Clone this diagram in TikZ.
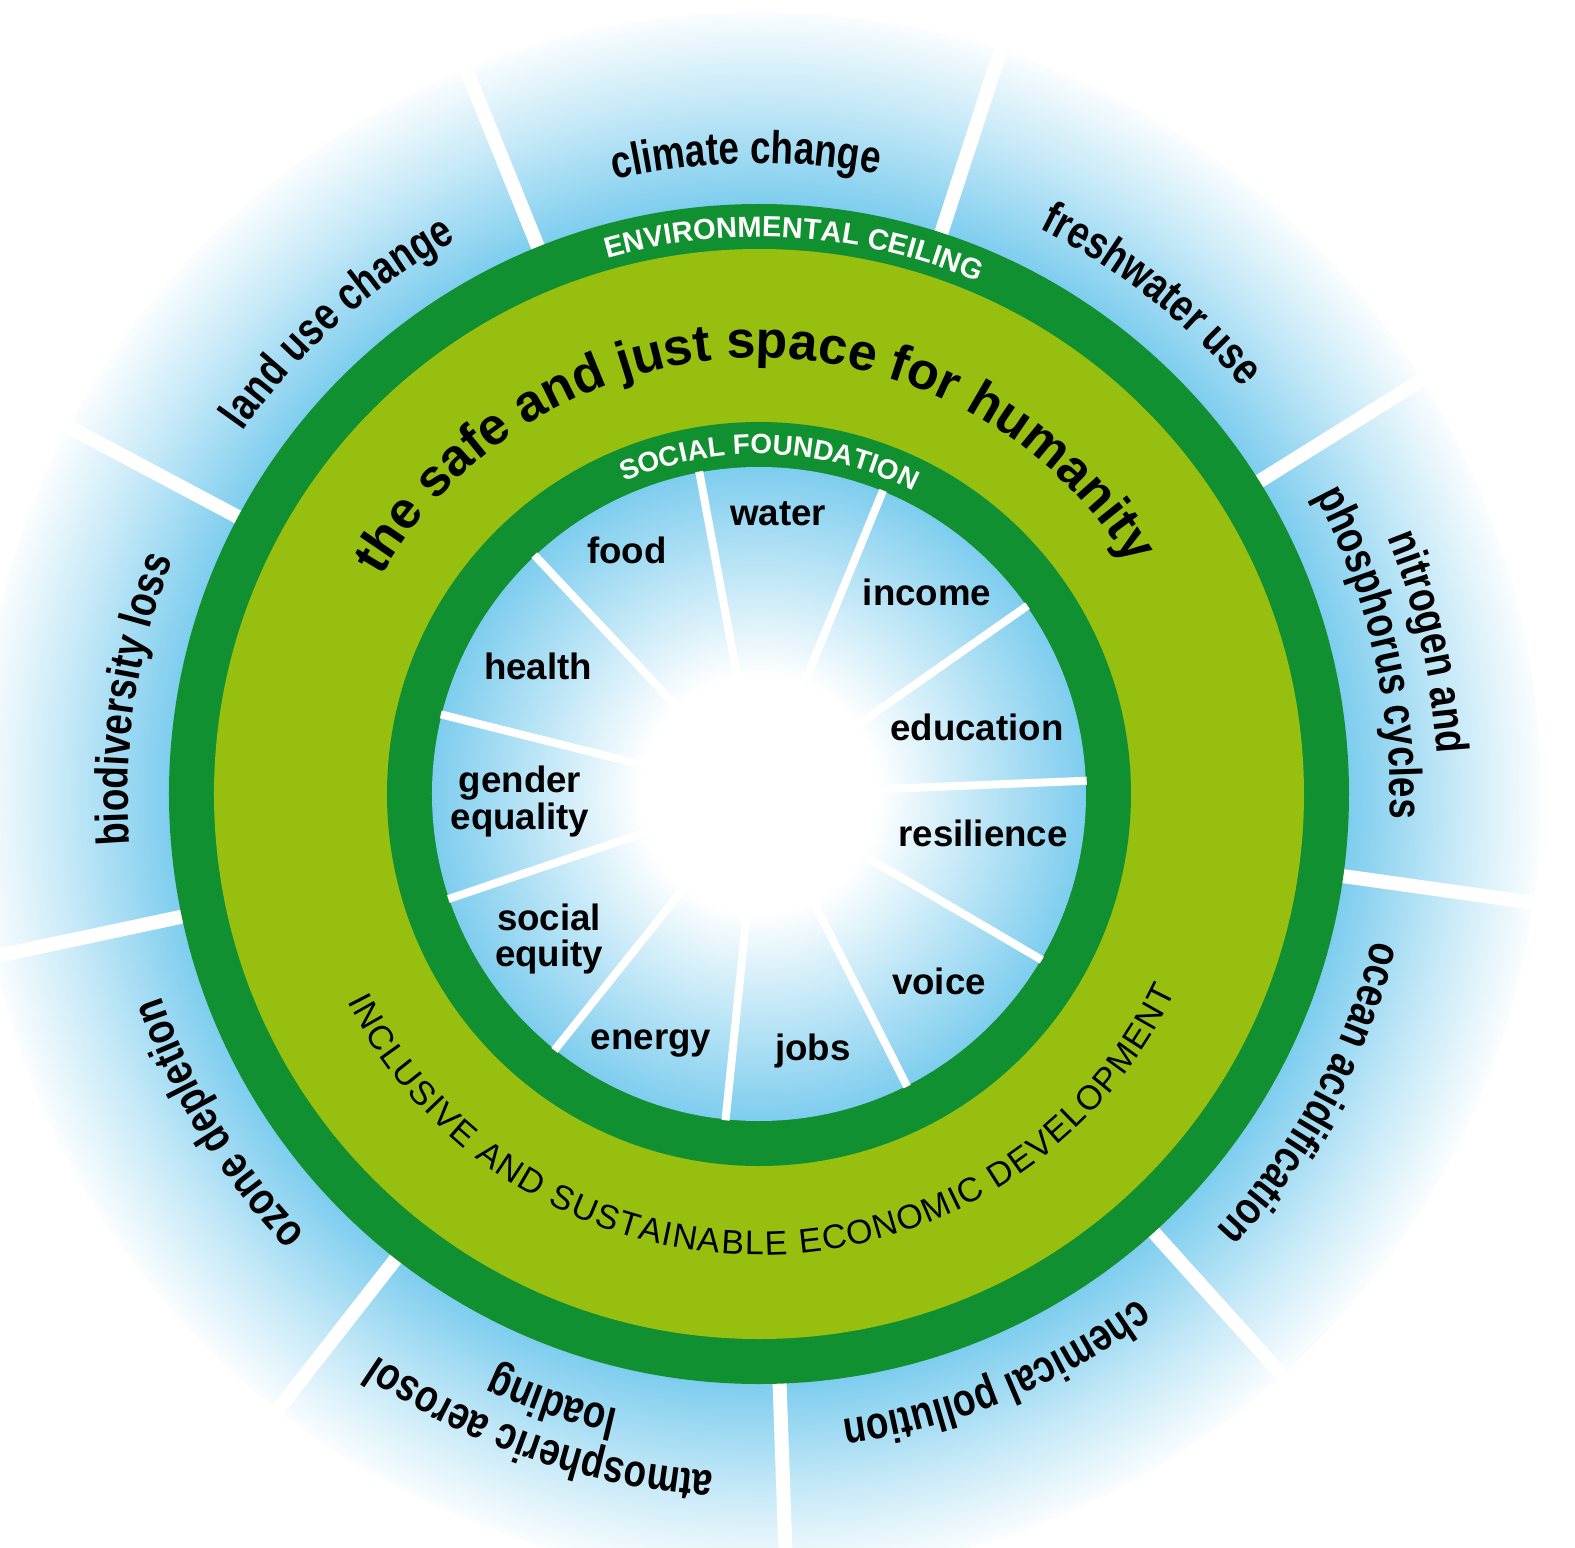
\documentclass[tikz,border=0pt]{standalone}
\usepackage{fontspec}
\setmainfont{Liberation Sans}
\newfontfamily\narrowsans{Liberation Sans}[FakeStretch=0.8]
\usetikzlibrary{decorations.text}
\definecolor{ringgreen}{RGB}{16,144,48}
\definecolor{spacegreen}{RGB}{150,191,15}
\definecolor{haloblue}{RGB}{126,205,238}
\colorlet{halomid}{haloblue!45!white}
\colorlet{halopale}{haloblue!4!white}
\pgfdeclareradialshading{boundaryglow}{\pgfpoint{0bp}{0bp}}{color(0bp)=(haloblue); color(18.86bp)=(haloblue); color(22.2bp)=(halomid); color(25bp)=(halopale); color(50bp)=(halopale)}
\pgfdeclareradialshading{foundationglow}{\pgfpoint{0bp}{0bp}}{color(0bp)=(white); color(9bp)=(white); color(25bp)=(haloblue); color(50bp)=(haloblue)}
\newcommand\limitfont{\narrowsans\bfseries\fontsize{34.5}{38}\selectfont}
\newcommand\spacefont{\bfseries\fontsize{39}{44}\selectfont}
\newcommand\ceilingfont{\color{white}\bfseries\fontsize{21.8}{24}\selectfont}
\newcommand\floorfont{\color{white}\bfseries\fontsize{20.9}{23}\selectfont}
\newcommand\developfont{\fontsize{25.5}{28}\selectfont}
\tikzset{
  boundarygap/.style={draw=white, line width=10.5pt},
  foundationgap/.style={draw=white, line width=6pt},
  needlabel/.style={font=\bfseries\fontsize{27.5}{30}\selectfont, inner sep=0pt, anchor=base},
  arcwords/.style={decorate, decoration={text along path, text align=center, text={#1}}},
  fitwords/.style={decorate, decoration={text along path, text align={fit to path}, text={#1}}}
}

\begin{document}
\begin{tikzpicture}[x=0.75pt,y=0.75pt]
\useasboundingbox (-759,-753) rectangle (816,794);
\clip (-759,-753) rectangle (816,794);

%Shape: Circle [planetary boundaries]
\shade [shading=boundaryglow] (0,0) circle [radius=782];
%Straight Lines
\draw [boundarygap] (0,0) -- (112:800);
\draw [boundarygap] (0,0) -- (72:800);
\draw [boundarygap] (0,0) -- (32:800);
\draw [boundarygap] (0,0) -- (-8:800);
\draw [boundarygap] (0,0) -- (-48:800);
\draw [boundarygap] (0,0) -- (-88:800);
\draw [boundarygap] (0,0) -- (-128:800);
\draw [boundarygap] (0,0) -- (-168:800);
\draw [boundarygap] (0,0) -- (152:800);

%Shape: Circle [rings]
\fill [ringgreen] (0,0) circle [radius=590];
\fill [spacegreen] (0,0) circle [radius=545];
\fill [ringgreen] (0,0) circle [radius=372];
\shade [shading=foundationglow] (0,0) circle [radius=327];

%Straight Lines
\draw [foundationgap] (0,0) -- (100.5:328);
\draw [foundationgap] (0,0) -- (67.77:328);
\draw [foundationgap] (0,0) -- (35.05:328);
\draw [foundationgap] (0,0) -- (2.32:328);
\draw [foundationgap] (0,0) -- (-30.41:328);
\draw [foundationgap] (0,0) -- (-63.14:328);
\draw [foundationgap] (0,0) -- (-95.86:328);
\draw [foundationgap] (0,0) -- (-128.59:328);
\draw [foundationgap] (0,0) -- (-161.32:328);
\draw [foundationgap] (0,0) -- (165.95:328);
\draw [foundationgap] (0,0) -- (133.23:328);

% Text Node
\node [needlabel] (food) at (-132,231) {food};
\node [needlabel] (water) at (19,269) {water};
\node [needlabel] (income) at (168,189) {income};
\node [needlabel] (education) at (218,54) {education};
\node [needlabel] (resilience) at (224,-52) {resilience};
\node [needlabel] (voice) at (180,-200) {voice};
\node [needlabel] (jobs) at (54,-266) {jobs};
\node [needlabel] (energy) at (-108,-255) {energy};
\node [needlabel] (social) at (-210,-136) {social};
\node [needlabel] (equity) at (-210,-172) {equity};
\node [needlabel] (gender) at (-239,2) {gender};
\node [needlabel] (equality) at (-239,-35) {equality};
\node [needlabel] (health) at (-221,115) {health};

% Curved Text
\path [arcwords={|\ceilingfont|ENVIRONMENTAL CEILING}] (136.3:557) arc [start angle=136.3, end angle=36.3, radius=557];
\path [arcwords={|\floorfont|SOCIAL FOUNDATION}] (138.2:340) arc [start angle=138.2, end angle=38.2, radius=340];
\path [arcwords={|\spacefont|the safe and just space for humanity}] (165.8:436) arc [start angle=165.8, end angle=15.8, radius=436];
\path [fitwords={|\developfont|INCLUSIVE AND SUSTAINABLE ECONOMIC DEVELOPMENT}] (-153.3:461) arc [start angle=-153.3, end angle=-25.3, radius=461];

% Curved Text [planetary boundaries]
\path [arcwords={|\limitfont|climate change}] (131.2:631) arc [start angle=131.2, end angle=51.2, radius=631];
\path [arcwords={|\limitfont|freshwater use}] (91.8:631) arc [start angle=91.8, end angle=11.8, radius=631];
\path [arcwords={|\limitfont|nitrogen and}] (52.8:679) arc [start angle=52.8, end angle=-27.2, radius=679];
\path [arcwords={|\limitfont|phosphorus cycles}] (53:631) arc [start angle=53, end angle=-27, radius=631];
\path [arcwords={|\limitfont|ocean acidification}] (11.5:631) arc [start angle=11.5, end angle=-68.5, radius=631];
\path [arcwords={|\limitfont|chemical pollution}] (-27.7:631) arc [start angle=-27.7, end angle=-107.7, radius=631];
\path [arcwords={|\limitfont|atmospheric aerosol}] (-69:679) arc [start angle=-69, end angle=-149, radius=679];
\path [arcwords={|\limitfont|loading}] (-68.8:631) arc [start angle=-68.8, end angle=-148.8, radius=631];
\path [arcwords={|\limitfont|ozone depletion}] (-108.6:631) arc [start angle=-108.6, end angle=-188.6, radius=631];
\path [arcwords={|\limitfont|biodiversity loss}] (211.4:631) arc [start angle=211.4, end angle=131.4, radius=631];
\path [arcwords={|\limitfont|land use change}] (171.8:631) arc [start angle=171.8, end angle=91.8, radius=631];

\end{tikzpicture}
\end{document}
